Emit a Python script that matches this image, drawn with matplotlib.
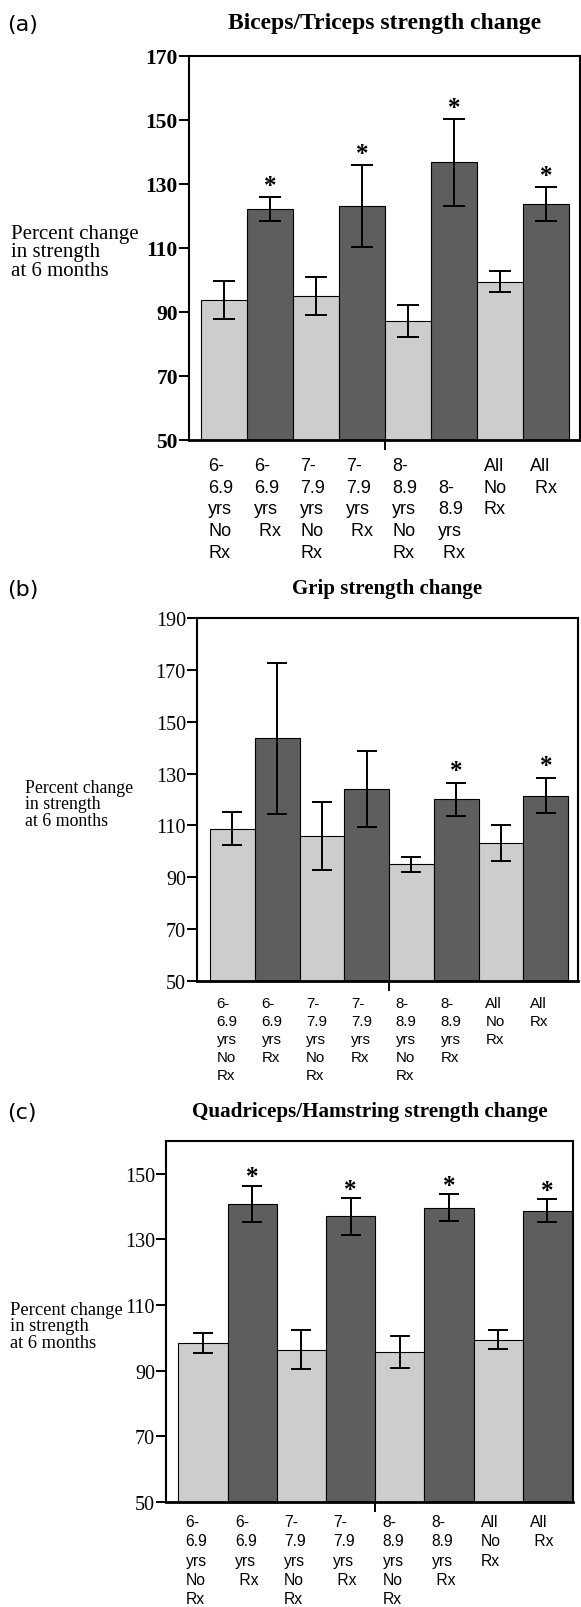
import matplotlib

matplotlib.use("Agg")
import matplotlib.pyplot as plt

# bar order: 6-6.9 no Rx, 6-6.9 Rx, 7-7.9 no Rx, 7-7.9 Rx, 8-8.9 no Rx, 8-8.9 Rx, all no Rx, all Rx
GROUPS = ["6-6.9 No Rx", "6-6.9 Rx", "7-7.9 No Rx", "7-7.9 Rx",
          "8-8.9 No Rx", "8-8.9 Rx", "All No Rx", "All Rx"]

A_TITLE = "Biceps/Triceps strength change"
A_MEAN = [93.8, 122.1, 95.0, 123.0, 87.3, 136.8, 99.5, 123.8]
A_ERR = [6.0, 3.7, 6.0, 12.8, 5.0, 13.6, 3.4, 5.4]
A_SIG = [0, 1, 0, 1, 0, 1, 0, 1]
A_LABELS = ["6-\n6.9\nyrs\nNo\nRx", "6-\n6.9\nyrs\n Rx", "7-\n7.9\nyrs\nNo\nRx",
            "7-\n7.9\nyrs\n Rx", "8-\n8.9\nyrs\nNo\nRx", "\n8-\n8.9\nyrs\n Rx",
            "All\nNo\nRx", "All\n Rx"]

B_TITLE = "Grip strength change"
B_MEAN = [108.7, 143.6, 105.9, 124.1, 95.0, 120.1, 103.3, 121.5]
B_ERR = [6.4, 29.0, 13.0, 14.7, 3.0, 6.3, 7.0, 6.6]
B_SIG = [0, 0, 0, 0, 0, 1, 0, 1]
B_LABELS = ["6-\n6.9\nyrs\nNo\nRx", "6-\n6.9\nyrs\nRx", "7-\n7.9\nyrs\nNo\nRx",
            "7-\n7.9\nyrs\nRx", "8-\n8.9\nyrs\nNo\nRx", "8-\n8.9\nyrs\nRx",
            "All\nNo\nRx", "All\nRx"]

C_TITLE = "Quadriceps/Hamstring strength change"
C_MEAN = [98.4, 140.9, 96.4, 137.0, 95.7, 139.7, 99.5, 138.7]
C_ERR = [3.0, 5.5, 6.0, 5.5, 5.0, 4.0, 3.0, 3.5]
C_SIG = [0, 1, 0, 1, 0, 1, 0, 1]
C_LABELS = ["6-\n6.9\nyrs\nNo\nRx", "6-\n6.9\nyrs\n Rx", "7-\n7.9\nyrs\nNo\nRx",
            "7-\n7.9\nyrs\n Rx", "8-\n8.9\nyrs\nNo\nRx", "8-\n8.9\nyrs\n Rx",
            "All\nNo\nRx", "All\n Rx"]

YLABEL = "Percent change\nin strength\nat 6 months"

LIGHT = "#cdcdcd"
DARK = "#5e5e5e"
W, H = 581, 1608
SERIF = "Liberation Serif"
SANS = "Liberation Sans"

fig = plt.figure(figsize=(W / 100, H / 100), dpi=100)


def box(left, top, right, bottom):
    return [left / W, 1 - bottom / H, (right - left) / W, (bottom - top) / H]


def panel(letter, title, mean, err, sig, labels, *, rect, ylim, yticks, xlim,
          tick_bold, tick_size, label_size, label_pad, title_y, title_size,
          letter_y, ylabel_xy, ylabel_size, star_pad, capsize):
    ax = fig.add_axes(box(*rect))
    x = list(range(len(mean)))
    colors = [LIGHT if i % 2 == 0 else DARK for i in x]
    ax.bar(x, [m - ylim[0] for m in mean], bottom=ylim[0], width=1.0,
           color=colors, edgecolor="black", linewidth=0.8, zorder=2)
    ax.errorbar(x, mean, yerr=err, fmt="none", ecolor="black", elinewidth=1.4,
                capsize=capsize, capthick=1.4, zorder=3)
    for i in x:
        if sig[i]:
            ax.annotate("*", xy=(i, mean[i] + err[i]), xytext=(0, star_pad),
                        textcoords="offset points", ha="center", va="bottom",
                        fontsize=18, fontweight="bold", family=SERIF)
    for i, lab in enumerate(labels):
        ax.annotate(lab, xy=(i - 0.35, 0), xycoords=("data", "axes fraction"),
                    xytext=(0, -label_pad), textcoords="offset pixels",
                    ha="left", va="top", fontsize=label_size, family=SANS,
                    linespacing=1.36)
    ax.set_xlim(*xlim)
    ax.set_ylim(*ylim)
    ax.set_yticks(yticks)
    ax.set_yticklabels([str(t) for t in yticks], family=SERIF, fontsize=tick_size,
                       fontweight="bold" if tick_bold else "normal")
    ax.set_xticks([3.5])
    ax.set_xticklabels([""])
    ax.tick_params(axis="both", direction="out", length=7, width=1.4, pad=1)
    for s in ax.spines.values():
        s.set_linewidth(1.5)
    ax.spines["bottom"].set_linewidth(2.0)
    fig.text((rect[0] + rect[2]) / 2 / W, 1 - title_y / H, title, ha="center",
             va="center", family=SERIF, fontweight="bold", fontsize=title_size)
    fig.text(7 / W, 1 - letter_y / H, letter, ha="left", va="center",
             family="DejaVu Sans", fontsize=16)
    fig.text(ylabel_xy[0] / W, 1 - ylabel_xy[1] / H, YLABEL, ha="left",
             va="center", family=SERIF, fontsize=ylabel_size, linespacing=0.95)
    return ax


panel("(a)", A_TITLE, A_MEAN, A_ERR, A_SIG, A_LABELS,
      rect=(189, 57, 580, 441), ylim=(50, 170), yticks=list(range(50, 171, 20)),
      xlim=(-0.77, 7.74), tick_bold=True, tick_size=15.5, label_size=13,
      label_pad=17, title_y=24, title_size=17, letter_y=25, ylabel_xy=(11, 253),
      ylabel_size=15, star_pad=0, capsize=8)

panel("(b)", B_TITLE, B_MEAN, B_ERR, B_SIG, B_LABELS,
      rect=(197, 619, 578, 982), ylim=(50, 190), yticks=list(range(50, 191, 20)),
      xlim=(-0.79, 7.72), tick_bold=False, tick_size=14.5, label_size=10.8,
      label_pad=15, title_y=589, title_size=15, letter_y=590, ylabel_xy=(25, 805),
      ylabel_size=12.8, star_pad=1, capsize=7)

panel("(c)", C_TITLE, C_MEAN, C_ERR, C_SIG, C_LABELS,
      rect=(166, 1142, 573, 1503), ylim=(50, 160), yticks=list(range(50, 151, 20)),
      xlim=(-0.75, 7.52), tick_bold=False, tick_size=14.5, label_size=11.3,
      label_pad=12, title_y=1112, title_size=15.2, letter_y=1113,
      ylabel_xy=(10, 1327), ylabel_size=13.3, star_pad=-2, capsize=7)

fig.savefig("out.png", dpi=100)
